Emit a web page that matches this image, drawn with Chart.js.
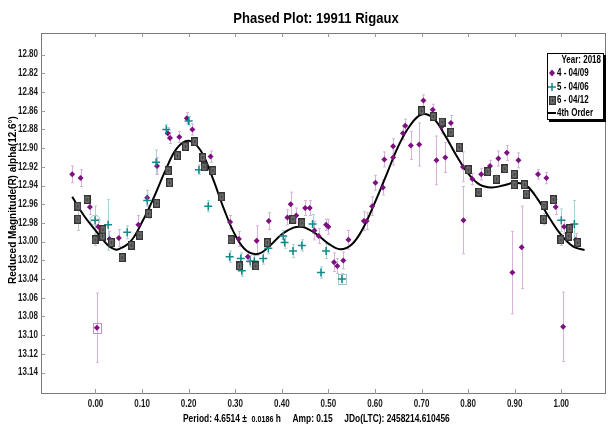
<!DOCTYPE html>
<html>
<head>
<meta charset="utf-8">
<script src="https://cdn.jsdelivr.net/npm/chart.js@4.4.1/dist/chart.umd.min.js"></script>
<style>
  html, body { margin: 0; padding: 0; background: #fff; overflow: hidden; }
  #wrap { width: 612px; height: 426px; }
</style>
</head>
<body>
<div id="wrap"><canvas id="phased" width="612" height="426"></canvas></div>
<script>
// tick labels
const xTicks = [0.0, 0.1, 0.2, 0.3, 0.4, 0.5, 0.6, 0.7, 0.8, 0.9, 1.0];
const yTicks = [12.80, 12.82, 12.84, 12.86, 12.88, 12.90, 12.92, 12.94, 12.96, 12.98,
  13.00, 13.02, 13.04, 13.06, 13.08, 13.10, 13.12, 13.14];

// session 4 - 04/09 (purple diamonds)
const s4Phase = [-0.050, -0.032, -0.012, 0.003, 0.006, 0.030, 0.050, 0.092, 0.111, 0.132,
  0.155, 0.160, 0.180, 0.196, 0.208, 0.247, 0.289, 0.308, 0.327, 0.346,
  0.372, 0.412, 0.419, 0.431, 0.450, 0.460, 0.470, 0.479, 0.495, 0.500,
  0.512, 0.519, 0.532, 0.543, 0.576, 0.582, 0.594, 0.601, 0.617, 0.620,
  0.639, 0.639, 0.660, 0.665, 0.677, 0.695, 0.704, 0.724, 0.732, 0.743,
  0.751, 0.763, 0.789, 0.790, 0.809, 0.828, 0.847, 0.865, 0.883, 0.895,
  0.908, 0.915, 0.950, 0.968, 0.988, 1.004, 1.006, 1.031];
const s4Mag = [12.928, 12.932, 12.963, 13.092, 12.984, 12.997, 12.996, 12.982, 12.953, 12.919,
  12.884, 12.889, 12.888, 12.868, 12.880, 12.909, 12.979, 12.997, 13.016, 12.999,
  12.978, 12.974, 12.960, 12.972, 12.964, 12.964, 12.988, 12.994, 12.982, 12.984,
  13.022, 13.026, 13.020, 12.998, 12.978, 12.978, 12.962, 12.937, 12.942, 12.912,
  12.910, 12.898, 12.884, 12.876, 12.897, 12.896, 12.849, 12.859, 12.913, 12.877,
  12.910, 12.873, 12.920, 12.977, 12.933, 12.928, 12.919, 12.911, 12.905, 13.033,
  12.913, 13.006, 12.928, 12.932, 12.963, 13.091, 12.984, 12.998];
const s4Err = [0.009, 0.009, 0.008, 0.037, 0.008, 0.008, 0.009, 0.010, 0.008, 0.009,
  0.006, 0.006, 0.006, 0.006, 0.006, 0.006, 0.007, 0.008, 0.006, 0.016,
  0.009, 0.008, 0.013, 0.008, 0.008, 0.008, 0.010, 0.008, 0.006, 0.008,
  0.010, 0.008, 0.009, 0.010, 0.010, 0.009, 0.010, 0.008, 0.008, 0.008,
  0.008, 0.008, 0.007, 0.007, 0.015, 0.023, 0.006, 0.006, 0.026, 0.007,
  0.016, 0.008, 0.016, 0.036, 0.006, 0.006, 0.006, 0.008, 0.008, 0.044,
  0.008, 0.044, 0.005, 0.006, 0.008, 0.037, 0.007, 0.007];

// session 5 - 04/06 (teal crosses)
const s5Phase = [-0.001, 0.027, 0.068, 0.111, 0.130, 0.152, 0.200, 0.222, 0.242, 0.288,
  0.312, 0.314, 0.332, 0.341, 0.360, 0.371, 0.403, 0.406, 0.424, 0.443,
  0.466, 0.484, 0.495, 0.529, 1.000, 1.028];
const s5Mag = [12.977, 12.982, 12.990, 12.956, 12.915, 12.880, 12.871, 12.923, 12.962, 13.016,
  13.018, 13.031, 13.021, 13.021, 13.018, 13.007, 12.994, 13.001, 13.010, 13.004,
  12.981, 13.033, 13.010, 13.040, 12.977, 12.981];
const s5Err = [0.015, 0.027, 0.007, 0.006, 0.013, 0.005, 0.005, 0.005, 0.006, 0.006,
  0.006, 0.006, 0.006, 0.006, 0.006, 0.006, 0.006, 0.006, 0.007, 0.006,
  0.010, 0.006, 0.008, 0.006, 0.012, 0.025];

// session 6 - 04/12 (grey squares)
const s6Phase = [-0.038, -0.038, -0.018, -0.001, 0.015, 0.016, 0.034, 0.057, 0.077, 0.095,
  0.114, 0.131, 0.156, 0.159, 0.176, 0.193, 0.213, 0.230, 0.233, 0.252,
  0.271, 0.291, 0.309, 0.344, 0.369, 0.424, 0.443, 0.700, 0.725, 0.744,
  0.763, 0.781, 0.800, 0.823, 0.842, 0.861, 0.879, 0.899, 0.899, 0.921,
  0.925, 0.962, 0.963, 0.983, 0.999, 1.016, 1.018, 1.035];
const s6Mag = [12.962, 12.976, 12.955, 12.998, 12.994, 12.987, 13.001, 13.017, 13.004, 12.993,
  12.970, 12.959, 12.924, 12.937, 12.908, 12.898, 12.893, 12.910, 12.920, 12.924,
  12.952, 12.998, 13.026, 13.026, 13.001, 12.976, 12.980, 12.860, 12.866, 12.872,
  12.883, 12.899, 12.923, 12.947, 12.925, 12.933, 12.922, 12.928, 12.939, 12.939,
  12.949, 12.976, 12.961, 12.955, 12.998, 12.994, 12.986, 13.001];
const s6Err = [0.004, 0.012, 0.004, 0.006, 0.004, 0.004, 0.004, 0.004, 0.004, 0.004,
  0.005, 0.004, 0.004, 0.004, 0.004, 0.004, 0.004, 0.004, 0.004, 0.004,
  0.004, 0.004, 0.004, 0.004, 0.004, 0.004, 0.004, 0.004, 0.004, 0.004,
  0.004, 0.004, 0.004, 0.004, 0.004, 0.004, 0.004, 0.004, 0.004, 0.004,
  0.004, 0.006, 0.004, 0.004, 0.006, 0.004, 0.004, 0.004];

// points the source marks with an outline (index into the series)
const s4Boxed = [3];
const s5Boxed = [23];
const s5Ringed = [0];

// 4th order fit
const fitPhase = [-0.050, -0.025, 0.000, 0.025, 0.040, 0.050, 0.075, 0.100, 0.125, 0.150,
  0.175, 0.200, 0.225, 0.250, 0.275, 0.300, 0.325, 0.350, 0.375, 0.400,
  0.425, 0.440, 0.450, 0.475, 0.500, 0.525, 0.550, 0.575, 0.600, 0.625,
  0.650, 0.675, 0.700, 0.725, 0.750, 0.775, 0.800, 0.825, 0.850, 0.875,
  0.900, 0.925, 0.950, 0.975, 1.000, 1.025, 1.050];
const fitMag = [12.952, 12.972, 12.988, 13.003, 13.008, 13.008, 13.000, 12.979, 12.953, 12.924,
  12.900, 12.892, 12.902, 12.930, 12.964, 12.993, 13.010, 13.013, 13.004, 12.992,
  12.985, 12.984, 12.985, 12.992, 13.002, 13.008, 13.003, 12.985, 12.958, 12.928,
  12.898, 12.876, 12.864, 12.868, 12.886, 12.908, 12.927, 12.939, 12.942, 12.940,
  12.937, 12.940, 12.955, 12.975, 12.993, 13.005, 13.009];

const pts = (xs, ys) => xs.map((x, i) => ({ x: x, y: ys[i] }));

// grey square marker
function squareMarker() {
  const c = document.createElement("canvas");
  c.width = 7; c.height = 9;
  const g = c.getContext("2d");
  g.fillStyle = "#333";
  g.fillRect(0, 0, 7, 9);
  g.fillStyle = "#8c8c8c";
  g.fillRect(1.5, 1.5, 4, 6);
  g.fillStyle = "#3c3c3c";
  g.fillRect(2.5, 2.5, 2, 4);
  return c;
}
const sqMark = squareMarker();

const SANS = '"Liberation Sans", Arial, sans-serif';

// condensed text (the source uses a narrow bold face)
function narrowText(ctx, text, x, y, font, align, sx) {
  ctx.save();
  ctx.font = font;
  ctx.textAlign = align;
  ctx.translate(x, y);
  ctx.scale(sx, 1);
  ctx.fillText(text, 0, 0);
  const w = ctx.measureText(text).width * sx;
  ctx.restore();
  return w;
}

// error bars and outlines under the marks
const errorBars = {
  id: "errorBars",
  beforeDatasetsDraw(chart) {
    const ctx = chart.ctx;
    const ys = chart.scales.y, xs = chart.scales.x;
    ctx.save();
    ctx.beginPath();
    ctx.rect(chart.chartArea.left, chart.chartArea.top, chart.chartArea.width, chart.chartArea.height);
    ctx.clip();
    chart.data.datasets.forEach((ds) => {
      if (!ds.errors) return;
      ctx.strokeStyle = ds.errColor;
      ctx.lineWidth = 1;
      ds.data.forEach((p, i) => {
        const e = ds.errors[i];
        const px = Math.round(xs.getPixelForValue(p.x)) + 0.5;
        const y1 = ys.getPixelForValue(p.y - e), y2 = ys.getPixelForValue(p.y + e);
        ctx.beginPath();
        ctx.moveTo(px, y1); ctx.lineTo(px, y2);
        ctx.moveTo(px - 1.5, y1); ctx.lineTo(px + 1.5, y1);
        ctx.moveTo(px - 1.5, y2); ctx.lineTo(px + 1.5, y2);
        ctx.stroke();
      });
      ctx.strokeStyle = ds.markColor;
      (ds.boxed || []).forEach((i) => {
        const px = Math.round(xs.getPixelForValue(ds.data[i].x)) + 0.5;
        const py = Math.round(ys.getPixelForValue(ds.data[i].y)) + 0.5;
        ctx.strokeRect(px - 4, py - 5, 8, 10);
      });
      (ds.ringed || []).forEach((i) => {
        const px = xs.getPixelForValue(ds.data[i].x);
        const py = ys.getPixelForValue(ds.data[i].y);
        ctx.beginPath(); ctx.arc(px, py, 5, 0, Math.PI * 2); ctx.stroke();
      });
    });
    ctx.restore();
  }
};

// frame, inner ticks, tick labels, title, footer, legend
const decor = {
  id: "decor",
  afterDraw(chart) {
    const ctx = chart.ctx;
    const a = chart.chartArea;
    const xs = chart.scales.x, ys = chart.scales.y;
    ctx.save();
    ctx.strokeStyle = "#7a7a7a";
    ctx.lineWidth = 1;
    ctx.strokeRect(Math.round(a.left) + 0.5, Math.round(a.top) + 0.5,
      Math.round(a.width) - 1, Math.round(a.height) - 1);
    ctx.strokeStyle = "#9a9a9a";
    ctx.beginPath();
    xTicks.forEach((v) => {
      const px = Math.round(xs.getPixelForValue(v)) + 0.5;
      ctx.moveTo(px, a.top); ctx.lineTo(px, a.top + 4);
      ctx.moveTo(px, a.bottom); ctx.lineTo(px, a.bottom - 5);
    });
    yTicks.forEach((v) => {
      const py = Math.round(ys.getPixelForValue(v)) + 0.5;
      ctx.moveTo(a.left, py); ctx.lineTo(a.left + 4, py);
    });
    ctx.stroke();

    ctx.fillStyle = "#1a1a1a";
    ctx.textBaseline = "middle";
    const tickFont = "bold 10px " + SANS;
    yTicks.forEach((v) => {
      narrowText(ctx, v.toFixed(2), a.left - 3, ys.getPixelForValue(v), tickFont, "right", 0.8);
    });
    xTicks.forEach((v) => {
      narrowText(ctx, v.toFixed(2), xs.getPixelForValue(v), a.bottom + 10, tickFont, "center", 0.8);
    });

    // title
    ctx.fillStyle = "#000";
    narrowText(ctx, "Phased Plot: 19911 Rigaux", 316, 19, "bold 15px " + SANS, "center", 0.87);

    // y axis title
    ctx.save();
    ctx.translate(13, 200);
    ctx.rotate(-Math.PI / 2);
    ctx.font = "bold 10px " + SANS;
    ctx.textAlign = "center";
    ctx.fillText("Reduced Magnitude(R) alpha(12.6\u00b0)", 0, 0);
    ctx.restore();

    // footer
    ctx.textBaseline = "alphabetic";
    let fx = 183;
    fx += narrowText(ctx, "Period: 4.6514 \u00b1  ", fx, 422, "bold 10px " + SANS, "left", 0.84);
    fx += narrowText(ctx, "0.0186", fx, 422, "bold 8.5px " + SANS, "left", 0.84);
    narrowText(ctx, " h     Amp: 0.15     JDo(LTC): 2458214.610456", fx, 422, "bold 10px " + SANS, "left", 0.84);

    // legend box
    const lx = 547, ly = 53, lw = 57, lh = 67;
    ctx.fillStyle = "#000";
    ctx.fillRect(lx + 2, ly + 2, lw, lh);
    ctx.fillStyle = "#fff";
    ctx.fillRect(lx, ly, lw, lh);
    ctx.strokeStyle = "#000";
    ctx.lineWidth = 1;
    ctx.strokeRect(lx + 0.5, ly + 0.5, lw - 1, lh - 1);
    ctx.fillStyle = "#000";
    ctx.textBaseline = "middle";
    const lf = "bold 10px " + SANS;
    narrowText(ctx, "Year: 2018", lx + lw - 3, ly + 7, lf, "right", 0.8);
    const rows = [
      { t: "4 - 04/09", y: ly + 20, k: "d" },
      { t: "5 - 04/06", y: ly + 34, k: "c" },
      { t: "6 - 04/12", y: ly + 47, k: "s" },
      { t: "4th Order", y: ly + 60, k: "l" }
    ];
    rows.forEach((r) => {
      const mx = lx + 5;
      if (r.k === "d") {
        ctx.fillStyle = "#7d0f80";
        ctx.beginPath();
        ctx.moveTo(mx, r.y - 3.5); ctx.lineTo(mx + 3, r.y); ctx.lineTo(mx, r.y + 3.5); ctx.lineTo(mx - 3, r.y);
        ctx.closePath(); ctx.fill();
      } else if (r.k === "c") {
        ctx.strokeStyle = "#138a8a"; ctx.lineWidth = 1.5;
        ctx.beginPath();
        ctx.moveTo(mx - 4, r.y); ctx.lineTo(mx + 4, r.y);
        ctx.moveTo(mx, r.y - 4); ctx.lineTo(mx, r.y + 4);
        ctx.stroke();
      } else if (r.k === "s") {
        ctx.drawImage(sqMark, mx - 3, r.y - 4);
      } else {
        ctx.strokeStyle = "#000"; ctx.lineWidth = 2;
        ctx.beginPath(); ctx.moveTo(lx + 1, r.y); ctx.lineTo(lx + 9, r.y); ctx.stroke();
      }
      ctx.fillStyle = "#000";
      narrowText(ctx, r.t, lx + 10, r.y, lf, "left", 0.8);
    });
    ctx.restore();
  }
};

new Chart(document.getElementById("phased").getContext("2d"), {
  data: {
    datasets: [
      {
        type: "scatter",
        label: "6 - 04/12",
        data: pts(s6Phase, s6Mag),
        errors: s6Err,
        errColor: "#c4c4c4",
        pointStyle: sqMark,
        pointRadius: 5
      },
      {
        type: "scatter",
        label: "5 - 04/06",
        data: pts(s5Phase, s5Mag),
        errors: s5Err,
        errColor: "#a9d3d3",
        markColor: "#9ccaca",
        boxed: s5Boxed,
        ringed: s5Ringed,
        pointStyle: "cross",
        pointRadius: 4,
        borderColor: "#138a8a",
        backgroundColor: "#138a8a",
        borderWidth: 1.5
      },
      {
        type: "scatter",
        label: "4 - 04/09",
        data: pts(s4Phase, s4Mag),
        errors: s4Err,
        errColor: "#d6b3d8",
        markColor: "#c58fc8",
        boxed: s4Boxed,
        pointStyle: "rectRot",
        pointRadius: 3,
        borderWidth: 0,
        borderColor: "#7d0f80",
        backgroundColor: "#7d0f80"
      },
      {
        type: "line",
        label: "4th Order",
        data: pts(fitPhase, fitMag),
        borderColor: "#000",
        borderWidth: 2,
        pointRadius: 0,
        tension: 0.4,
        fill: false
      }
    ]
  },
  options: {
    responsive: false,
    animation: false,
    devicePixelRatio: 1,
    layout: { padding: { left: 0, top: 33, right: 1, bottom: 0 } },
    plugins: { legend: { display: false }, title: { display: false }, tooltip: { enabled: false } },
    scales: {
      x: {
        type: "linear",
        min: -0.117,
        max: 1.096,
        grid: { display: false, drawTicks: false },
        border: { display: false },
        afterBuildTicks: (s) => { s.ticks = xTicks.map((v) => ({ value: v })); },
        afterFit: (s) => { s.height = 32; },
        ticks: { display: false }
      },
      y: {
        type: "linear",
        reverse: true,
        min: 12.7768,
        max: 13.1629,
        grid: { display: false, drawTicks: false },
        border: { display: false },
        afterBuildTicks: (s) => { s.ticks = yTicks.map((v) => ({ value: v })); },
        afterFit: (s) => { s.width = 41; },
        ticks: { display: false }
      }
    }
  },
  plugins: [errorBars, decor]
});
</script>
</body>
</html>
